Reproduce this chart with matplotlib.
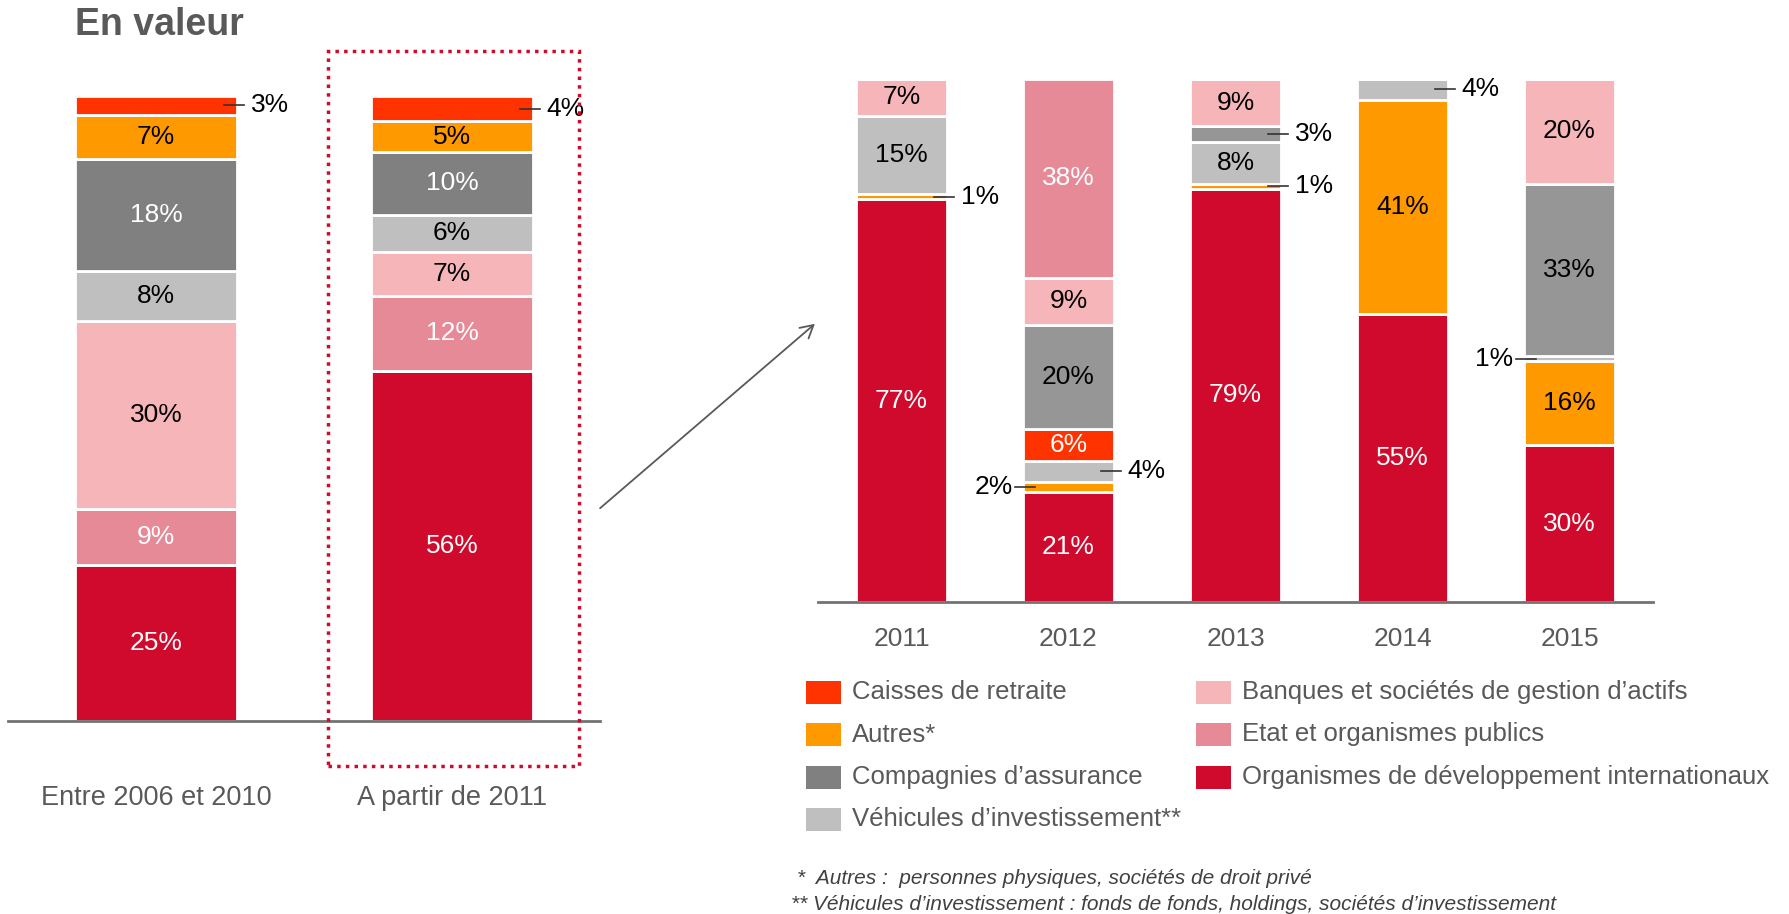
import matplotlib
matplotlib.use("Agg")
import matplotlib.pyplot as plt
from matplotlib.patches import Rectangle, FancyArrowPatch
import numpy as np

plt.rcParams['font.family'] = ['Liberation Sans', 'DejaVu Sans']

# ---- data ----
series = ['Caisses de retraite', 'Autres*', 'Compagnies d’assurance',
          'Véhicules d’investissement**', 'Banques et sociétés de gestion d’actifs',
          'Etat et organismes publics', 'Organismes de développement internationaux']

left_periods = ['Entre 2006 et 2010', 'A partir de 2011']
org_left = [25, 56]
etat_left = [9, 12]
banques_left = [30, 7]
vehic_left = [8, 6]
assur_left = [18, 10]
autres_left = [7, 5]
caisses_left = [3, 4]

years = ['2011', '2012', '2013', '2014', '2015']
org_right = [77, 21, 79, 55, 30]
autres_right = [1, 2, 1, 41, 16]
vehic_right = [15, 4, 8, 4, 1]
caisses_right = [0, 6, 0, 0, 0]
assur_right = [0, 20, 3, 0, 33]
banques_right = [7, 9, 9, 0, 20]
etat_right = [0, 38, 0, 0, 0]

# ---- styles ----
C_ORG = '#CF0A2C'
C_ETAT = '#E68A98'
C_BANQ = '#F6B5B9'
C_VEH = '#BFBFBF'
C_ASS = '#808080'
C_ASS2 = '#969696'
C_AUT = '#FF9900'
C_CAI = '#FF3300'
GREY_TXT = '#595959'
VAL_FS = 19

W, H = 1789, 914
fig = plt.figure(figsize=(W / 100, H / 100), dpi=100)


def fx(x):
    return x / W


def fy(y):
    return 1 - y / H


def stack(ax, layers, width, outside, px_unit):
    # layers: list of (values, color, text color); outside: {(bar, layer): side}
    bottom = np.zeros(len(layers[0][0]))
    for li, (vals, col, tcol) in enumerate(layers):
        vals = np.array(vals, dtype=float)
        x = np.arange(len(vals))
        ax.bar(x, vals, width, bottom=bottom, color=col, edgecolor='white',
               linewidth=2, zorder=2)
        for i, v in enumerate(vals):
            if v <= 0:
                continue
            yc = bottom[i] + v / 2
            side = outside.get((i, li))
            if side is None:
                ax.text(i, yc, f'{int(v)}%', ha='center', va='center',
                        color=tcol, fontsize=VAL_FS, zorder=3)
            elif side == 'r':
                edge = i + width / 2
                ax.plot([edge - 13 / px_unit, edge + 7 / px_unit], [yc, yc],
                        color='#333333', lw=1.2, zorder=3, clip_on=False)
                ax.text(edge + 14 / px_unit, yc, f'{int(v)}%', ha='left',
                        va='center', fontsize=VAL_FS, color='black', clip_on=False)
            else:
                edge = i - width / 2
                ax.plot([edge - 8 / px_unit, edge + 12 / px_unit], [yc, yc],
                        color='#333333', lw=1.2, zorder=3, clip_on=False)
                ax.text(edge - 11 / px_unit, yc, f'{int(v)}%', ha='right',
                        va='center', fontsize=VAL_FS, color='black', clip_on=False)
        bottom += vals


def style_axis(ax, labels, pad, size):
    ax.set_ylim(0, 100)
    ax.set_xlim(-0.5, len(labels) - 0.5)
    for s in ['top', 'left', 'right']:
        ax.spines[s].set_visible(False)
    ax.spines['bottom'].set_color('#737373')
    ax.spines['bottom'].set_linewidth(2)
    ax.set_yticks([])
    ax.set_xticks(range(len(labels)))
    ax.set_xticklabels(labels, fontsize=size, color=GREY_TXT)
    ax.tick_params(axis='x', length=0, pad=pad)
    ax.patch.set_alpha(0)


# ---- left chart ----
axl = fig.add_axes([fx(8), fy(721), 592 / W, 625 / H])
left_layers = [(org_left, C_ORG, 'white'), (etat_left, C_ETAT, 'white'),
               (banques_left, C_BANQ, 'black'), (vehic_left, C_VEH, 'black'),
               (assur_left, C_ASS, 'white'), (autres_left, C_AUT, 'black'),
               (caisses_left, C_CAI, 'white')]
stack(axl, left_layers, 0.544, {(0, 6): 'r', (1, 6): 'r'}, 296)
style_axis(axl, left_periods, 46, 19.5)

# ---- right chart ----
axr = fig.add_axes([fx(818), fy(602), 835 / W, 523 / H])
right_layers = [(org_right, C_ORG, 'white'), (autres_right, C_AUT, 'black'),
                (vehic_right, C_VEH, 'black'), (caisses_right, C_CAI, 'white'),
                (assur_right, C_ASS2, 'black'), (banques_right, C_BANQ, 'black'),
                (etat_right, C_ETAT, 'white')]
right_out = {(0, 1): 'r', (1, 1): 'l', (1, 2): 'r', (2, 4): 'r', (2, 1): 'r',
             (3, 2): 'r', (4, 2): 'l'}
stack(axr, right_layers, 0.54, right_out, 167)
style_axis(axr, years, 18, 19)

# ---- title, highlight box, arrow ----
fig.text(fx(75), fy(25), 'En valeur', fontsize=27, fontweight='bold',
         color=GREY_TXT, va='center', ha='left')

box = Rectangle((fx(328), fy(766)), (579 - 328) / W, (766 - 51) / H,
                transform=fig.transFigure, fill=False, edgecolor=C_ORG,
                linewidth=2.5, linestyle=(0, (1, 1.5)), zorder=5)
box.set_capstyle('butt')
fig.add_artist(box)

arrow = FancyArrowPatch((fx(598), fy(510)), (fx(817), fy(322)),
                        transform=fig.transFigure, arrowstyle='->,head_length=9,head_width=5',
                        color=GREY_TXT, linewidth=1.3, mutation_scale=1)
fig.add_artist(arrow)

# ---- legend ----
legend_colors = [C_CAI, C_AUT, C_ASS, C_VEH, C_BANQ, C_ETAT, C_ORG]
col_x = [806, 1196]
for i, (name, col) in enumerate(zip(series, legend_colors)):
    c, r = i // 4, i % 4
    x0 = col_x[c]
    yc = 692 + r * 42.5
    fig.add_artist(Rectangle((fx(x0), fy(yc + 11.5)), 35 / W, 23 / H,
                             transform=fig.transFigure, facecolor=col,
                             edgecolor='none'))
    fig.text(fx(x0 + 46), fy(yc), name, fontsize=18.5, color=GREY_TXT,
             va='center', ha='left')

# ---- footnotes ----
fig.text(fx(797), fy(879), '*  Autres :  personnes physiques, sociétés de droit privé',
         fontsize=15, style='italic', color='#404040', va='center')
fig.text(fx(791), fy(904), '** Véhicules d’investissement : fonds de fonds, holdings, sociétés d’investissement',
         fontsize=15, style='italic', color='#404040', va='center')

fig.savefig('out.png', dpi=100)
